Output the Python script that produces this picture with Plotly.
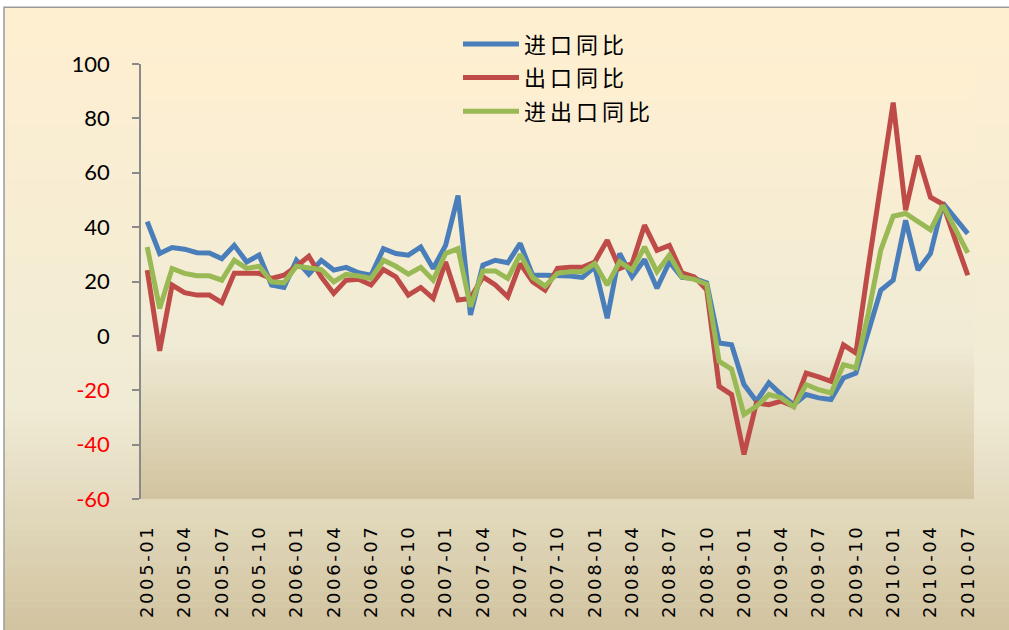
import plotly.graph_objects as go

months = [
    "2005-01", "2005-02", "2005-03", "2005-04", "2005-05", "2005-06", "2005-07", "2005-08", "2005-09", "2005-10", "2005-11", "2005-12",
    "2006-01", "2006-02", "2006-03", "2006-04", "2006-05", "2006-06", "2006-07", "2006-08", "2006-09", "2006-10", "2006-11", "2006-12",
    "2007-01", "2007-02", "2007-03", "2007-04", "2007-05", "2007-06", "2007-07", "2007-08", "2007-09", "2007-10", "2007-11", "2007-12",
    "2008-01", "2008-02", "2008-03", "2008-04", "2008-05", "2008-06", "2008-07", "2008-08", "2008-09", "2008-10", "2008-11", "2008-12",
    "2009-01", "2009-02", "2009-03", "2009-04", "2009-05", "2009-06", "2009-07", "2009-08", "2009-09", "2009-10", "2009-11", "2009-12",
    "2010-01", "2010-02", "2010-03", "2010-04", "2010-05", "2010-06", "2010-07",
]

import_yoy = [
    42, 30.3, 32.5, 31.9, 30.6, 30.5, 28.4, 33.3, 27.2, 29.7, 18.7, 17.8,
    27.8, 22.7, 27.8, 24.2, 25.2, 23.2, 22.3, 32.1, 30.3, 29.7, 32.7, 24.8,
    33.3, 51.6, 7.7, 26, 27.8, 26.9, 34, 22.3, 22.3, 22.3, 22, 21.5,
    25.4, 6.5, 30.3, 21.7, 28.1, 17.5, 27.2, 21.5, 21.1, 19.5, -2.6, -3.3,
    -17.9, -24, -17.3, -21.6, -25.3, -21.6, -22.8, -23.4, -15.5, -13.7, 1, 16.8,
    20.5, 42.5, 24.2, 30.3, 48.8, 43.1, 37.6,
]

export_yoy = [
    24.2, -5.5, 18.7, 15.9, 15, 15, 12.2, 23, 23, 23, 21.1, 22.3,
    25.6, 29.3, 21.7, 15.6, 20.5, 20.8, 18.7, 24.4, 21.7, 15, 17.8, 13.8,
    27.2, 13.2, 13.8, 21.7, 18.7, 14.4, 26.6, 19.9, 16.8, 24.8, 25.2, 25.2,
    27.2, 35.2, 24.8, 26.6, 40.7, 31.5, 33.3, 23.2, 21.7, 17, -18.6, -21.6,
    -43.6, -24.7, -25.3, -24, -25.9, -13.7, -15.1, -16.7, -3.3, -6.3, 25.4, 54.7,
    85.8, 46.2, 66.3, 51, 48.4, 35.2, 22.3,
]

total_yoy = [
    32.7, 10.1, 24.8, 23, 22.1, 22.1, 20.5, 27.8, 24.8, 25.6, 19.9, 19.5,
    25.6, 25, 24.4, 19.9, 22.6, 22, 21.1, 27.8, 25.6, 22.7, 25.2, 20.5,
    30.3, 32.1, 10.7, 23.9, 23.9, 21.1, 30, 21.5, 18.3, 23, 23.6, 23.6,
    26.6, 18.7, 27.2, 24.2, 32.7, 23.6, 29.7, 21.7, 20.8, 19, -9.4, -12.2,
    -28.9, -25.9, -21.6, -22.8, -26.1, -17.9, -19.8, -21, -10.6, -11.8, 8.3, 31.5,
    44, 45, 42.2, 39, 48, 39.4, 30.5,
]

series_names = ["进口同比", "出口同比", "进出口同比"]
series_colors = ["#4A7EBB", "#BE4B48", "#98B954"]
y_ticks = [100, 80, 60, 40, 20, 0, -20, -40, -60]

W, H = 1009, 630
ML, MR, MT, MB = 141, 35, 64, 129
PW, PH = W - ML - MR, H - MT - MB

idx = list(range(len(months)))
label_idx = idx[::3]
label_txt = ['<span style="letter-spacing:2.6px">%s</span>' % m for m in months[::3]]
boundary_ticks = [i - 0.5 for i in label_idx]


def px_to_paper_x(X):
    return (X - ML) / PW


def px_to_paper_y(Y):
    return (H - MB - Y) / PH


def hex_rgb(h):
    h = h.lstrip("#")
    return tuple(int(h[k:k + 2], 16) for k in (0, 2, 4))


stops = [(0.0, hex_rgb("#FFEFD1")), (0.64, hex_rgb("#F0EBD5")), (1.0, hex_rgb("#D1C39F"))]


def grad(t):
    for (t0, c0), (t1, c1) in zip(stops[:-1], stops[1:]):
        if t <= t1:
            f = (t - t0) / (t1 - t0)
            c = [round(a + (b - a) * f) for a, b in zip(c0, c1)]
            return "rgb(%d,%d,%d)" % tuple(c)
    return "rgb(%d,%d,%d)" % stops[-1][1]


shapes = []


def gradient_rect(X0, X1, Y0, Y1, n):
    for k in range(n):
        ya = Y0 + (Y1 - Y0) * k / n
        yb = Y0 + (Y1 - Y0) * (k + 1) / n + 0.6
        shapes.append(dict(
            type="rect", xref="paper", yref="paper", layer="below",
            x0=px_to_paper_x(X0), x1=px_to_paper_x(X1),
            y0=px_to_paper_y(ya), y1=px_to_paper_y(min(yb, Y1)),
            fillcolor=grad((k + 0.5) / n), line=dict(width=0),
        ))


# chart area and plot area gradients (Parchment)
gradient_rect(4, 1015, 7, 634, 80)
gradient_rect(ML, ML + PW, MT, MT + PH, 60)
# chart area border
shapes.append(dict(
    type="rect", xref="paper", yref="paper", layer="below",
    x0=px_to_paper_x(4), x1=px_to_paper_x(1015),
    y0=px_to_paper_y(634), y1=px_to_paper_y(7),
    fillcolor="rgba(0,0,0,0)", line=dict(color="#9A9A9A", width=1.5),
))

fig = go.Figure()
for name, vals, col in zip(series_names, [import_yoy, export_yoy, total_yoy], series_colors):
    fig.add_trace(go.Scatter(
        x=idx, y=vals, mode="lines",
        name='<span style="letter-spacing:4px">%s</span>' % name, legendgroup=name,
        line=dict(color=col, width=5),
    ))

tick_text = []
for v in y_ticks:
    if v < 0:
        tick_text.append('<span style="color:#FF0000">%d</span>' % v)
    else:
        tick_text.append(str(v))

fig.update_layout(
    width=W, height=H,
    margin=dict(l=ML, r=MR, t=MT, b=MB, pad=0),
    paper_bgcolor="#FFFFFF",
    plot_bgcolor="rgba(0,0,0,0)",
    shapes=shapes,
    showlegend=True,
    legend=dict(
        x=px_to_paper_x(458), y=px_to_paper_y(23), xanchor="left", yanchor="top",
        bgcolor="rgba(0,0,0,0)", font=dict(family="Noto Sans CJK SC", size=22, color="#000000"),
        traceorder="grouped", tracegroupgap=2, itemwidth=56,
    ),
    xaxis=dict(
        range=[-0.5, len(months) - 0.5], tickmode="array", tickvals=label_idx, ticktext=label_txt,
        tickangle=-90, ticks="", showline=False, showgrid=False, zeroline=False,
        tickfont=dict(family="DejaVu Sans", size=18, color="#000000"),
        ticklabelstandoff=21,
    ),
    xaxis2=dict(
        overlaying="x", anchor="free", position=(0 - (-60)) / 160,
        range=[-0.5, len(months) - 0.5], tickmode="array", tickvals=boundary_ticks,
        ticks="outside", ticklen=7, tickwidth=1.5, tickcolor="#8A8A8A",
        showticklabels=False, showline=True, linecolor="#8A8A8A", linewidth=1.5,
        showgrid=False, zeroline=False, side="bottom",
    ),
    yaxis=dict(
        range=[-60, 100], tickmode="array", tickvals=y_ticks, ticktext=tick_text,
        ticks="outside", ticklen=7, tickwidth=1.5, tickcolor="#8A8A8A",
        showline=True, linecolor="#8A8A8A", linewidth=1.5, showgrid=False, zeroline=False,
        tickfont=dict(family="Lato", size=22, color="#000000"), ticklabelstandoff=18,
    ),
)

fig.write_html(
    "out.html",
    config={"displayModeBar": False},
    post_script="document.body.style.margin='0';",
)
